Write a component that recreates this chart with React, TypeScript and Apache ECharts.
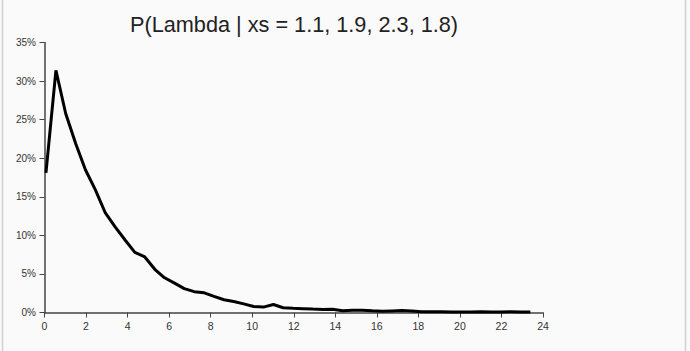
import React, { useEffect, useRef } from "react";
import * as echarts from "echarts";

const TITLE = "P(Lambda | xs = 1.1, 1.9, 2.3, 1.8)";

const lambdas = [
  0.07, 0.55, 1.02, 1.5, 1.97, 2.45, 2.93, 3.4, 3.88, 4.35,
  4.83, 5.31, 5.78, 6.26, 6.73, 7.21, 7.69, 8.16, 8.64, 9.11,
  9.59, 10.07, 10.54, 11.02, 11.49, 11.97, 12.45, 12.92, 13.4, 13.87,
  14.35, 14.83, 15.3, 15.78, 16.25, 16.73, 17.21, 17.68, 18.16, 18.63,
  19.11, 19.59, 20.06, 20.54, 21.01, 21.49, 21.97, 22.44, 22.92, 23.39,
];

const probs = [
  18.1, 31.4, 25.8, 21.9, 18.5, 15.9, 12.9, 11.1, 9.4, 7.8,
  7.2, 5.6, 4.5, 3.8, 3.1, 2.7, 2.55, 2.1, 1.65, 1.42,
  1.12, 0.78, 0.7, 1.04, 0.62, 0.55, 0.5, 0.45, 0.4, 0.42,
  0.22, 0.28, 0.3, 0.22, 0.15, 0.2, 0.25, 0.2, 0.1, 0.1,
  0.09, 0.08, 0.07, 0.08, 0.1, 0.08, 0.07, 0.1, 0.08, 0.08,
];

const Y_MIN = 0;
const Y_MAX = 35;
const Y_STEP = 5;
const X_MIN = 0;
const X_MAX = 24;
const X_STEP = 2;

export default function App() {
  const ref = useRef<HTMLDivElement>(null);

  useEffect(() => {
    document.body.style.margin = "0";
    if (!ref.current) return;
    const chart = echarts.init(ref.current, undefined, { renderer: "svg" });
    const axisColor = "#444";
    const font = "Liberation Sans, Arial, sans-serif";
    chart.setOption({
      animation: false,
      backgroundColor: "#fafafa",
      textStyle: { fontFamily: font },
      graphic: [
        { type: "line", shape: { x1: 2.5, y1: 0, x2: 2.5, y2: 351 }, style: { stroke: "#cfcfcf", lineWidth: 1.5 } },
        { type: "line", shape: { x1: 685.5, y1: 0, x2: 685.5, y2: 351 }, style: { stroke: "#cfcfcf", lineWidth: 1.5 } },
        {
          type: "text",
          x: 294,
          y: 24.5,
          style: {
            text: TITLE,
            fill: "#222",
            font: "21.7px " + font,
            align: "center",
            verticalAlign: "middle",
          },
        },
      ],
      grid: { left: 44.5, right: 147, top: 42.5, bottom: 38.5, containLabel: false },
      xAxis: {
        type: "value",
        min: X_MIN,
        max: X_MAX,
        interval: X_STEP,
        splitLine: { show: false },
        axisLine: { show: true, onZero: false, lineStyle: { color: axisColor, width: 1.5 } },
        axisTick: { show: true, length: 5, lineStyle: { color: axisColor } },
        axisLabel: { color: "#333", fontSize: 10.5, margin: 8 },
      },
      yAxis: {
        type: "value",
        min: Y_MIN,
        max: Y_MAX,
        interval: Y_STEP,
        splitLine: { show: false },
        axisLine: { show: true, lineStyle: { color: axisColor, width: 1.5 } },
        axisTick: { show: true, length: 5, lineStyle: { color: axisColor } },
        axisLabel: { color: "#333", fontSize: 10, margin: 8.5, formatter: "{value}%" },
      },
      series: [
        {
          type: "line",
          data: lambdas.map((x, i) => [x, probs[i]]),
          showSymbol: false,
          symbol: "none",
          lineStyle: { color: "#000", width: 3 },
          itemStyle: { color: "#000" },
        },
      ],
    });
    return () => chart.dispose();
  }, []);

  return <div ref={ref} style={{ width: 690, height: 351 }} />;
}
